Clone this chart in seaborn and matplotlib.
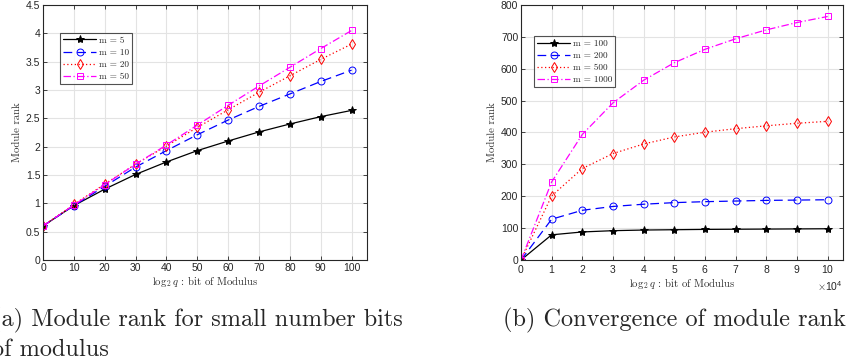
import numpy as np
import matplotlib
matplotlib.use("Agg")
import matplotlib.pyplot as plt
import pandas as pd
import seaborn as sns

# data
bits_small = [0, 10, 20, 30, 40, 50, 60, 70, 80, 90, 100]
rank_m5 = [0.60, 0.96, 1.25, 1.51, 1.73, 1.93, 2.10, 2.26, 2.40, 2.53, 2.64]
rank_m10 = [0.60, 0.96, 1.30, 1.64, 1.93, 2.21, 2.47, 2.71, 2.93, 3.15, 3.35]
rank_m20 = [0.60, 0.98, 1.34, 1.69, 2.01, 2.34, 2.65, 2.96, 3.25, 3.54, 3.81]
rank_m50 = [0.60, 0.97, 1.33, 1.69, 2.03, 2.38, 2.73, 3.07, 3.40, 3.73, 4.05]

bits_large = [0, 10000, 20000, 30000, 40000, 50000, 60000, 70000, 80000, 90000, 100000]
rank_m100 = [0, 79, 88, 92, 94, 95, 96, 96.5, 97, 97.5, 98]
rank_m200 = [0, 128, 156, 168, 175, 180, 183, 185, 187, 188, 189]
rank_m500 = [0, 201, 287, 334, 364, 386, 401, 412, 421, 429, 435]
rank_m1000 = [0, 245, 394, 493, 564, 619, 661, 694, 722, 745, 764]

labels_a = ["m = 5", "m = 10", "m = 20", "m = 50"]
labels_b = ["m = 100", "m = 200", "m = 500", "m = 1000"]

sns.set_theme(style="white")
plt.rcParams["font.family"] = ["Liberation Sans", "DejaVu Sans"]
plt.rcParams["mathtext.fontset"] = "cm"
plt.rcParams["axes.unicode_minus"] = False

colors = ["black", "blue", "red", "magenta"]
markers = ["*", "o", "d", "s"]
dashes = ["-", (0, (7, 4)), (0, (1, 2)), (0, (6, 2, 1, 2))]
serif = "cmr10"


def long_df(x, series, names):
    frames = []
    for ys, name in zip(series, names):
        frames.append(pd.DataFrame({"x": x, "y": ys, "m": name}))
    return pd.concat(frames, ignore_index=True)


def draw(ax, df, names, anchor):
    for i, name in enumerate(names):
        sub = df[df["m"] == name]
        face = colors[i] if i == 0 else "none"
        sns.lineplot(data=sub, x="x", y="y", ax=ax, color=colors[i], marker=markers[i],
                     linestyle=dashes[i], linewidth=0.9, markersize=5 if i else 6,
                     markerfacecolor=face, markeredgecolor=colors[i], markeredgewidth=0.7,
                     label=name)
    ax.grid(True, color="#e3e3e3", linewidth=0.8)
    for s in ax.spines.values():
        s.set_color("#262626")
        s.set_linewidth(0.8)
    ax.tick_params(direction="in", length=3, width=0.6, labelsize=7.5,
                   top=True, right=True, bottom=True, left=True, colors="#262626", pad=2)
    ax.set_xlabel(r"$\log_2 q$ : bit of Modulus", family=serif, fontsize=7.8, labelpad=1, color="#333333")
    ax.set_ylabel("Module rank", family=serif, fontsize=7.8, labelpad=3, color="#333333")
    leg = ax.legend(loc="upper left", bbox_to_anchor=anchor, prop={"family": serif, "size": 6.6},
                    frameon=True, fancybox=False, edgecolor="#262626", borderpad=0.35,
                    labelspacing=0.4, handlelength=3.6, handletextpad=0.3, borderaxespad=0)
    leg.get_frame().set_linewidth(0.8)


fig = plt.figure(figsize=(8.47, 3.62), dpi=100)
ax1 = fig.add_axes([43 / 847, 102 / 362, 324 / 847, 255 / 362])
ax2 = fig.add_axes([521 / 847, 102 / 362, 322 / 847, 255 / 362])

df_a = long_df(bits_small, [rank_m5, rank_m10, rank_m20, rank_m50], labels_a)
draw(ax1, df_a, labels_a, (0.052, 0.89))
ax1.set_xlim(0, 105)
ax1.set_ylim(0, 4.5)
ax1.set_xticks(range(0, 101, 10))
ax1.set_yticks(np.arange(0, 4.51, 0.5))
ax1.set_yticklabels(["0", "0.5", "1", "1.5", "2", "2.5", "3", "3.5", "4", "4.5"])

df_b = long_df(bits_large, [rank_m100, rank_m200, rank_m500, rank_m1000], labels_b)
draw(ax2, df_b, labels_b, (0.04, 0.878))
ax2.set_xlim(0, 105000)
ax2.set_ylim(0, 800)
ax2.set_xticks(range(0, 100001, 10000))
ax2.set_yticks(range(0, 801, 100))
ax2.ticklabel_format(axis="x", style="sci", scilimits=(4, 4), useMathText=True)
ax2.xaxis.get_offset_text().set_fontsize(7.5)

fig.text(-0.009, 0.0994, "(a) Module rank for small number bits", family=serif, fontsize=17.5, va="baseline")
fig.text(-0.009, 0.0166, "of modulus", family=serif, fontsize=17.5, va="baseline")
fig.text(846 / 847, 0.0994, "(b) Convergence of module rank", family=serif, fontsize=17.5,
         va="baseline", ha="right")

fig.savefig("out.png", dpi=100)
